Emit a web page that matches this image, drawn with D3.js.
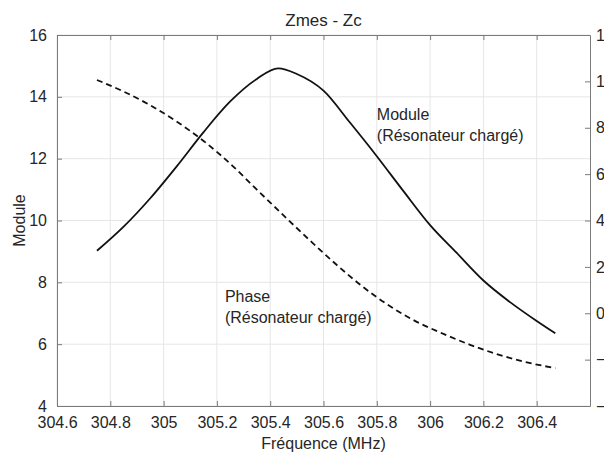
<!DOCTYPE html>
<html>
<head>
<meta charset="utf-8">
<script src="https://cdn.jsdelivr.net/npm/d3@7"></script>
<style>
  body { margin: 0; background: #fff; }
  svg { display: block; font-family: "Liberation Sans", Arial, sans-serif; }
</style>
</head>
<body>
<div class="figure"></div>
<script>
// frequency (MHz) -> module (left axis), phase (right axis)
var freq = [304.75, 304.85, 304.95, 305.05, 305.15, 305.25, 305.35, 305.43, 305.5,
            305.6, 305.7, 305.8, 305.9, 306.0, 306.1, 306.2, 306.3, 306.4, 306.47]
var module = [9.02, 9.80, 10.72, 11.76, 12.86, 13.85, 14.58, 14.92, 14.74,
              14.2, 13.16, 12.08, 10.95, 9.85, 8.95, 8.06, 7.36, 6.75, 6.35]

var phaseFreq = [304.75, 304.85, 304.95, 305.05, 305.15, 305.25, 305.35, 305.45, 305.55,
                 305.65, 305.75, 305.85, 305.95, 306.05, 306.15, 306.25, 306.35, 306.47]
var phase = [100.6, 95.6, 89.7, 82.6, 74.3, 64.5, 53.3, 42.2, 31.3,
             20.8, 11.2, 3.0, -3.7, -8.9, -13.6, -17.6, -20.8, -23.7]

var xTicks = [304.6, 304.8, 305, 305.2, 305.4, 305.6, 305.8, 306, 306.2, 306.4]
var yTicksLeft = [4, 6, 8, 10, 12, 14, 16]
var yTicksRight = [-40, -20, 0, 20, 40, 60, 80, 100, 120]

var dim = { w: 604, h: 454 }
var margin = { top: 35, left: 57, right: 14, bottom: 48 }
var w = dim.w - margin.left - margin.right,
    h = dim.h - margin.top - margin.bottom

var textColor = "#262626",
    axisColor = "#7a7a7a",
    gridColor = "#e6e6e6",
    tickLen = 5,
    fontSize = 16

var svg = d3.select("div.figure")
    .append("svg")
    .attr("width", dim.w)
    .attr("height", dim.h)

var g = svg.append("g")
    .attr("transform", "translate(" + margin.left + "," + margin.top + ")")

var xScale = d3.scaleLinear().domain([304.6, 306.6]).range([0, w])
var yLeft = d3.scaleLinear().domain([4, 16]).range([h, 0])
var yRight = d3.scaleLinear().domain([-40, 120]).range([h, 0])

// grid
g.append("g").selectAll("line")
    .data(xTicks).enter().append("line")
    .attr("x1", function(d) { return xScale(d) })
    .attr("x2", function(d) { return xScale(d) })
    .attr("y1", 0).attr("y2", h)
    .attr("stroke", gridColor)
g.append("g").selectAll("line")
    .data(yTicksLeft).enter().append("line")
    .attr("y1", function(d) { return yLeft(d) })
    .attr("y2", function(d) { return yLeft(d) })
    .attr("x1", 0).attr("x2", w)
    .attr("stroke", gridColor)

// axes (inward ticks)
var xAxis = d3.axisBottom(xScale).tickValues(xTicks)
    .tickSizeInner(-tickLen).tickSizeOuter(0).tickPadding(11)
    .tickFormat(d3.format(""))
var xTop = d3.axisTop(xScale).tickValues(xTicks)
    .tickSizeInner(-tickLen).tickSizeOuter(0).tickFormat("")
var yAxisL = d3.axisLeft(yLeft).tickValues(yTicksLeft)
    .tickSizeInner(-tickLen).tickSizeOuter(0).tickPadding(10)
var yAxisR = d3.axisRight(yRight).tickValues(yTicksRight)
    .tickSizeInner(-tickLen).tickSizeOuter(0).tickPadding(6)

function styleAxis(sel) {
    sel.style("font-size", fontSize + "px")
       .style("font-family", "Liberation Sans, Arial, sans-serif")
    sel.selectAll("path, line").attr("stroke", axisColor)
    sel.selectAll("text").attr("fill", textColor)
}

g.append("g").attr("transform", "translate(0," + h + ")").call(xAxis).call(styleAxis)
g.append("g").call(xTop).call(styleAxis)
g.append("g").call(yAxisL).call(styleAxis)
g.append("g").attr("transform", "translate(" + w + ",0)").call(yAxisR).call(styleAxis)

// curves
var lineL = d3.line()
    .x(function(d, i) { return xScale(freq[i]) })
    .y(function(d) { return yLeft(d) })
    .curve(d3.curveMonotoneX)
var lineR = d3.line()
    .x(function(d, i) { return xScale(phaseFreq[i]) })
    .y(function(d) { return yRight(d) })
    .curve(d3.curveMonotoneX)

g.append("path")
    .attr("d", lineL(module))
    .attr("fill", "none")
    .attr("stroke", "#111")
    .attr("stroke-width", 1.8)

g.append("path")
    .attr("d", lineR(phase))
    .attr("fill", "none")
    .attr("stroke", "#111")
    .attr("stroke-width", 1.8)
    .attr("stroke-dasharray", "6,4")

// annotations
var notes = [
    { x: 305.8, y: 13.25, lines: ["Module", "(Résonateur chargé)"] },
    { x: 305.23, y: 7.36, lines: ["Phase", "(Résonateur chargé)"] }
]
notes.forEach(function(n) {
    var t = g.append("text")
        .attr("x", xScale(n.x))
        .attr("y", yLeft(n.y))
        .attr("fill", textColor)
        .style("font-size", fontSize + "px")
    n.lines.forEach(function(s, i) {
        t.append("tspan").attr("x", xScale(n.x)).attr("dy", i == 0 ? 0 : 20.5).text(s)
    })
})

// titles
svg.append("text")
    .attr("x", margin.left + w / 2).attr("y", 26)
    .attr("text-anchor", "middle")
    .attr("fill", textColor)
    .style("font-size", "17px")
    .text("Zmes - Zc")

svg.append("text")
    .attr("x", margin.left + w / 2).attr("y", 449)
    .attr("text-anchor", "middle")
    .attr("fill", textColor)
    .style("font-size", fontSize + "px")
    .text("Fréquence (MHz)")

svg.append("text")
    .attr("transform", "translate(25," + (margin.top + h / 2) + ") rotate(-90)")
    .attr("text-anchor", "middle")
    .attr("fill", textColor)
    .style("font-size", fontSize + "px")
    .text("Module")
</script>
</body>
</html>
